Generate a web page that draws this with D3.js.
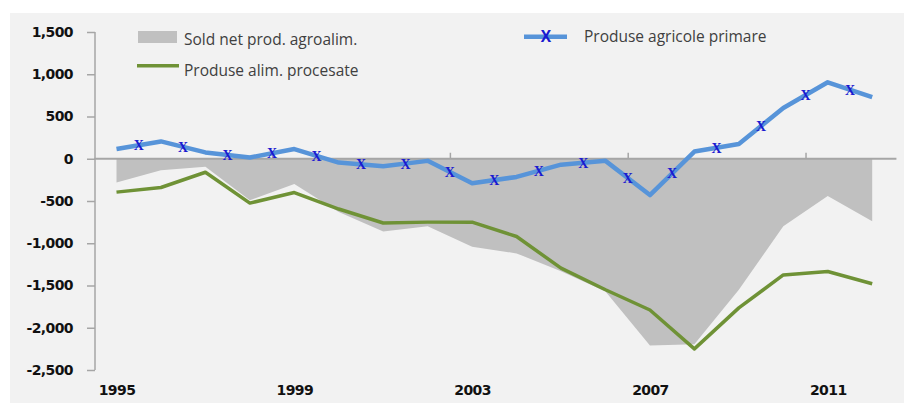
<!DOCTYPE html>
<html>
<head>
<meta charset="utf-8">
<script src="https://cdn.jsdelivr.net/npm/d3@7"></script>
<style>
  body { margin: 0; background: #fff; }
  svg { display: block; }
  .ytick text, .xtick text { font-family: "DejaVu Sans", sans-serif; font-weight: bold; font-size: 14px; fill: #111; letter-spacing: -0.6px; }
  .legend text { font-family: "Open Sans", sans-serif; font-size: 15.5px; fill: #404040; }
</style>
</head>
<body>
<div id="chart"></div>
<script>
const years = d3.range(1995, 2013)
const soldNet = [-280, -135, -95, -490, -300, -630, -860, -800, -1040, -1120, -1330, -1570, -2210, -2195, -1550, -800, -440, -740]
const procesate = [-395, -340, -160, -525, -400, -595, -760, -750, -750, -920, -1295, -1550, -1790, -2250, -1765, -1375, -1335, -1480]
const primare = [115, 205, 75, 15, 115, -45, -90, -25, -290, -215, -70, -25, -430, 85, 175, 600, 905, 730]
const yTicks = [1500, 1000, 500, 0, -500, -1000, -1500, -2000, -2500]
const xLabels = [1995, 1999, 2003, 2007, 2011]

const width = 904, height = 403
const svg = d3.select('#chart').append('svg')
    .attr('width', width)
    .attr('height', height)

svg.append('rect')
    .attr('x', 10).attr('y', 13)
    .attr('width', width - 10).attr('height', height - 13)
    .attr('fill', '#f2f2f2')

const x = d3.scaleLinear().domain([1995, 2012]).range([116.5, 872.2])
const y = d3.scaleLinear().domain([-2500, 1500]).range([370, 32])

const rows = years.map((yr, i) => ({ yr: yr, sold: soldNet[i], proc: procesate[i], prim: primare[i] }))

// grey area
const area = d3.area()
    .x(d => x(d.yr))
    .y0(y(0))
    .y1(d => y(d.sold))
svg.append('path')
    .datum(rows)
    .attr('d', area)
    .attr('fill', '#c0c0c0')

// y axis
const fmt = d3.format(',')
const yAxis = svg.append('g')
    .attr('class', 'ytick')
    .attr('transform', 'translate(95,0)')
    .call(d3.axisLeft(y).tickValues(yTicks).tickSize(8).tickPadding(14)
        .tickFormat(d => fmt(d).replace('\u2212', '-')))
yAxis.select('.domain').attr('stroke', '#a6a6a6').attr('stroke-width', 1.5)
    .attr('d', `M0,${y(1500)}V${y(-2500)}`)
yAxis.selectAll('.tick line').attr('stroke', '#a6a6a6').attr('stroke-width', 1.5)

// zero line + small category ticks
svg.append('line')
    .attr('x1', x(1994.5)).attr('x2', x(2012.5) + 2)
    .attr('y1', y(0)).attr('y2', y(0))
    .attr('stroke', '#a6a6a6').attr('stroke-width', 2)
const tickAxis = svg.append('g')
    .attr('transform', `translate(0,${y(0)})`)
    .call(d3.axisTop(x).tickValues(xLabels.slice(1).map(d => d - 0.5)).tickSize(6).tickFormat(''))
tickAxis.select('.domain').remove()
tickAxis.selectAll('.tick line').attr('stroke', '#a6a6a6').attr('stroke-width', 1.5)

// x labels
const xAxis = svg.append('g')
    .attr('class', 'xtick')
    .attr('transform', 'translate(0,385)')
    .call(d3.axisBottom(x).tickValues(xLabels).tickSize(0).tickPadding(0).tickFormat(d3.format('d')))
xAxis.select('.domain').remove()

// green line
const lineProc = d3.line().x(d => x(d.yr)).y(d => y(d.proc))
svg.append('path')
    .datum(rows)
    .attr('d', lineProc)
    .attr('fill', 'none')
    .attr('stroke', '#6f9236')
    .attr('stroke-width', 3.5)
    .attr('stroke-linejoin', 'round')

// blue line
const linePrim = d3.line().x(d => x(d.yr)).y(d => y(d.prim))
svg.append('path')
    .datum(rows)
    .attr('d', linePrim)
    .attr('fill', 'none')
    .attr('stroke', '#5794d9')
    .attr('stroke-width', 4.5)
    .attr('stroke-linejoin', 'round')

// X markers at the middle of each segment
const mids = d3.pairs(rows).map(([a, b]) => ({ yr: (a.yr + b.yr) / 2, v: (a.prim + b.prim) / 2 }))
svg.append('g').selectAll('text')
    .data(mids)
    .join('text')
    .attr('x', d => x(d.yr))
    .attr('y', d => y(d.v))
    .attr('dy', '0.35em')
    .attr('text-anchor', 'middle')
    .attr('font-family', 'Liberation Serif, serif')
    .attr('font-weight', 'bold')
    .attr('font-size', 14)
    .attr('fill', '#1a1ad0')
    .text('X')

// legend
const legend = svg.append('g').attr('class', 'legend')
legend.append('rect')
    .attr('x', 138).attr('y', 31).attr('width', 39).attr('height', 12)
    .attr('fill', '#c0c0c0')
legend.append('text').attr('x', 184).attr('y', 39.5).attr('dy', '0.35em').text('Sold net prod. agroalim.')
legend.append('line')
    .attr('x1', 137).attr('x2', 179).attr('y1', 65.7).attr('y2', 65.7)
    .attr('stroke', '#6f9236').attr('stroke-width', 3.5)
legend.append('text').attr('x', 184).attr('y', 71).attr('dy', '0.35em').text('Produse alim. procesate')
legend.append('line')
    .attr('x1', 524).attr('x2', 567).attr('y1', 36.7).attr('y2', 36.7)
    .attr('stroke', '#5794d9').attr('stroke-width', 4.5)
legend.append('text')
    .attr('x', 546).attr('y', 36.7).attr('dy', '0.35em')
    .attr('text-anchor', 'middle')
    .attr('font-family', 'Liberation Serif, serif')
    .attr('font-weight', 'bold')
    .attr('font-size', 14)
    .style('fill', '#1a1ad0')
    .text('X')
legend.append('text').attr('x', 584).attr('y', 37).attr('dy', '0.35em').text('Produse agricole primare')
</script>
</body>
</html>
